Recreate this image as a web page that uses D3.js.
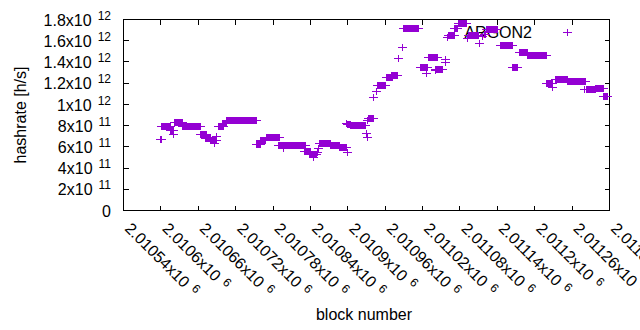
<!DOCTYPE html>
<html>
<head>
<meta charset="utf-8">
<script src="https://cdn.jsdelivr.net/npm/d3@7"></script>
<style>
  body { margin: 0; background: #fff; }
  svg text { font-family: "Liberation Sans", Arial, sans-serif; fill: #000; }
</style>
</head>
<body>
<div id="chart"></div>
<script>
// runs of consecutive blocks sharing one hashrate estimate
var runStart = [2010599, 2010601, 2010615, 2010621, 2010622, 2010634, 2010664, 2010672, 2010680, 2010686,
                2010690, 2010693, 2010699, 2010705, 2010754, 2010760, 2010769, 2010789, 2010791, 2010797,
                2010830, 2010832, 2010839, 2010845, 2010851, 2010853, 2010855, 2010872, 2010886, 2010899,
                2010898, 2010899, 2010905, 2010930, 2010931, 2010932, 2010934, 2010942, 2010946, 2010947,
                2010962, 2010970, 2010982, 2010987, 2010990, 2011016, 2011027, 2011030, 2011041, 2011041,
                2011056, 2011057, 2011060, 2011062, 2011071, 2011077, 2011092, 2011094, 2011112, 2011116,
                2011119, 2011123, 2011145, 2011164, 2011175, 2011188, 2011219, 2011228, 2011233, 2011253,
                2011280, 2011283, 2011297, 2011311];
var runEnd   = [2010601, 2010615, 2010620, 2010621, 2010634, 2010664, 2010674, 2010680, 2010689, 2010686,
                2010690, 2010700, 2010706, 2010753, 2010760, 2010768, 2010791, 2010789, 2010832, 2010797,
                2010830, 2010840, 2010850, 2010845, 2010851, 2010853, 2010872, 2010886, 2010898, 2010899,
                2010898, 2010905, 2010928, 2010930, 2010931, 2010932, 2010942, 2010942, 2010946, 2010960,
                2010971, 2010979, 2010982, 2010987, 2011014, 2011028, 2011027, 2011044, 2011052, 2011041,
                2011056, 2011057, 2011060, 2011071, 2011076, 2011091, 2011092, 2011110, 2011112, 2011116,
                2011121, 2011140, 2011164, 2011173, 2011188, 2011219, 2011229, 2011228, 2011252, 2011282,
                2011280, 2011297, 2011310, 2011316];
var hashrate = [6.66e11, 7.89e11, 7.57e11, 7.16e11, 8.32e11, 7.89e11, 7.13e11, 6.83e11, 6.55e11, 6.29e11,
                6.93e11, 7.89e11, 8.20e11, 8.46e11, 6.25e11, 6.57e11, 6.88e11, 6.13e11, 6.11e11, 5.81e11,
                5.53e11, 5.54e11, 5.32e11, 4.97e11, 5.51e11, 5.81e11, 6.29e11, 6.08e11, 5.94e11, 5.49e11,
                8.17e11, 8.13e11, 8.01e11, 7.28e11, 6.91e11, 8.48e11, 8.64e11, 1.062e12, 1.124e12, 1.175e12,
                1.253e12, 1.272e12, 1.43e12, 1.533e12, 1.712e12, 1.345e12, 1.288e12, 1.439e12, 1.33e12, 1.319e12,
                1.42e12, 1.398e12, 1.626e12, 1.652e12, 1.712e12, 1.764e12, 1.621e12, 1.646e12, 1.577e12, 1.64e12,
                1.663e12, 1.703e12, 1.555e12, 1.345e12, 1.487e12, 1.465e12, 1.197e12, 1.156e12, 1.236e12, 1.211e12,
                1.137e12, 1.142e12, 1.152e12, 1.079e12];

var xTicks = [2010540, 2010600, 2010660, 2010720, 2010780, 2010840, 2010900,
              2010960, 2011020, 2011080, 2011140, 2011200, 2011260, 2011320];
var xTickLabels = ['2.01054', '2.0106', '2.01066', '2.01072', '2.01078', '2.01084', '2.0109',
                   '2.01096', '2.01102', '2.01108', '2.01114', '2.0112', '2.01126', '2.01132'];
var yTicks = [0, 2e11, 4e11, 6e11, 8e11, 1e12, 1.2e12, 1.4e12, 1.6e12, 1.8e12];
var yTickLabels = ['0', '2', '4', '6', '8', '1', '1.2', '1.4', '1.6', '1.8'];
var yTickExps = ['', '11', '11', '11', '11', '12', '12', '12', '12', '12'];

var seriesName = 'ARGON2';
var purple = '#9400d3';

var svg = d3.select('#chart').append('svg')
            .attr('width', 640)
            .attr('height', 330);

var x = d3.scaleLinear().domain([2010540, 2011320]).range([123, 609]);
var y = d3.scaleLinear().domain([0, 1.8e12]).range([210, 19]);

// ticks point inwards on all four sides, gnuplot style
function noDomain(g) { g.select('.domain').remove(); g.selectAll('text').remove(); }
svg.append('g').attr('transform', 'translate(0,210.5)')
   .call(d3.axisBottom(x).tickValues(xTicks).tickSize(-5)).call(noDomain);
svg.append('g').attr('transform', 'translate(0,19.5)')
   .call(d3.axisTop(x).tickValues(xTicks).tickSize(-5)).call(noDomain);
svg.append('g').attr('transform', 'translate(123.5,0)')
   .call(d3.axisLeft(y).tickValues(yTicks).tickSize(-5)).call(noDomain);
svg.append('g').attr('transform', 'translate(609.5,0)')
   .call(d3.axisRight(y).tickValues(yTicks).tickSize(-5)).call(noDomain);
svg.selectAll('.tick line').attr('stroke', '#000').attr('shape-rendering', 'crispEdges');

svg.append('rect')
   .attr('x', 123.5).attr('y', 19.5)
   .attr('width', 486).attr('height', 191)
   .attr('fill', 'none').attr('stroke', '#000').attr('stroke-width', 1)
   .attr('shape-rendering', 'crispEdges');

// y tick labels
var yl = svg.append('g').selectAll('text')
   .data(yTicks).enter().append('text')
   .attr('x', 111)
   .attr('y', function(d) { return y(d); })
   .attr('dy', '0.42em')
   .attr('text-anchor', 'end')
   .style('font-size', '16px');
yl.append('tspan').text(function(d, i) { return yTickExps[i] ? yTickLabels[i] + 'x10' : yTickLabels[i]; });
yl.filter(function(d, i) { return yTickExps[i]; })
  .append('tspan').attr('dx', 6).attr('dy', -6).style('font-size', '12px')
  .text(function(d) { return yTickExps[yTicks.indexOf(d)]; });

// x tick labels, rotated
var xl = svg.append('g').selectAll('text')
   .data(xTicks).enter().append('text')
   .attr('transform', function(d) { return 'translate(' + (x(d) + 1) + ',229.5) rotate(45)'; })
   .attr('text-anchor', 'start')
   .style('font-size', '16px');
xl.append('tspan').text(function(d, i) { return xTickLabels[i] + 'x10'; });
xl.append('tspan').attr('dx', 6).attr('dy', -5).style('font-size', '12px').text('6');

svg.append('text')
   .attr('transform', 'translate(26,115) rotate(-90)')
   .attr('text-anchor', 'middle')
   .style('font-size', '16px')
   .text('hashrate [h/s]');

svg.append('text')
   .attr('x', 364).attr('y', 320)
   .attr('text-anchor', 'middle')
   .style('font-size', '16px')
   .text('block number');

// key
svg.append('text')
   .attr('x', 532).attr('y', 37.5)
   .attr('text-anchor', 'end')
   .style('font-size', '16px')
   .text(seriesName);

// a run of '+' points: filled band of vertical arms plus the horizontal arm
function drawRun(g, x0, x1, yy) {
  var a = Math.round(x0), b = Math.round(x1), c = Math.round(yy);
  g.append('rect')
   .attr('x', a).attr('width', b - a + 1)
   .attr('y', c - 3).attr('height', 7)
   .attr('fill', purple)
   .attr('shape-rendering', 'crispEdges');
  g.append('rect')
   .attr('x', a - 4).attr('width', b - a + 9)
   .attr('y', c).attr('height', 1)
   .attr('fill', purple)
   .attr('shape-rendering', 'crispEdges');
}

var pts = svg.append('g');
hashrate.forEach(function(v, i) {
  drawRun(pts, x(runStart[i]), x(runEnd[i]), y(v));
});

// key sample
drawRun(svg.append('g'), 567, 567, 32);
</script>
</body>
</html>
